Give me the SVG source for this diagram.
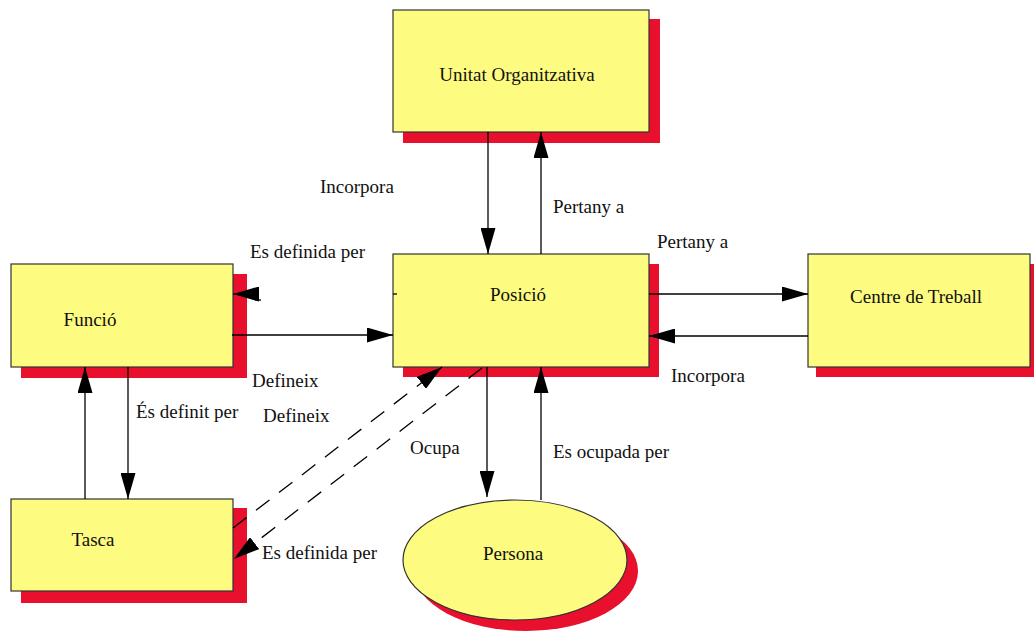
<svg xmlns="http://www.w3.org/2000/svg" width="1034" height="632" viewBox="0 0 1034 632">
  <defs>
    <marker id="arrow" markerUnits="userSpaceOnUse" markerWidth="27" markerHeight="15" refX="26" refY="7.5" orient="auto">
      <path d="M0,0 L26,7.5 L0,15 z" fill="#000"/>
    </marker>
    <style>
      .shadow { fill: #e8102c; }
      .box { fill: #fdfb80; stroke: #333; stroke-width: 1.2; }
      .lbl { font-family: "Liberation Serif", "Times New Roman", serif; font-size: 19px; fill: #111; }
      .conn { stroke: #000; stroke-width: 1.3; fill: none; }
      .dash { stroke: #000; stroke-width: 1.3; fill: none; stroke-dasharray: 17 12; }
    </style>
  </defs>
  <rect width="1034" height="632" fill="#fff"/>

  <!-- nodes -->
  <g id="unitat">
    <rect class="shadow" x="403" y="19" width="257" height="124"/>
    <rect class="box" x="393" y="10" width="256" height="122"/>
    <text class="lbl" x="517" y="81" text-anchor="middle">Unitat Organitzativa</text>
  </g>
  <g id="posicio">
    <rect class="shadow" x="403" y="264" width="256" height="113"/>
    <rect class="box" x="393" y="254" width="256" height="113"/>
    <text class="lbl" x="518" y="301" text-anchor="middle">Posició</text>
  </g>
  <g id="funcio">
    <rect class="shadow" x="21" y="274" width="226" height="104"/>
    <rect class="box" x="11" y="264" width="222" height="103"/>
    <text class="lbl" x="90" y="326" text-anchor="middle">Funció</text>
  </g>
  <g id="tasca">
    <rect class="shadow" x="21" y="508" width="226" height="95"/>
    <rect class="box" x="11" y="499" width="222" height="92"/>
    <text class="lbl" x="93" y="546" text-anchor="middle">Tasca</text>
  </g>
  <g id="centre">
    <rect class="shadow" x="816" y="264" width="222" height="113"/>
    <rect class="box" x="808" y="254" width="222" height="113"/>
    <text class="lbl" x="916" y="303" text-anchor="middle">Centre de Treball</text>
  </g>
  <g id="persona">
    <ellipse class="shadow" cx="526" cy="571" rx="112" ry="60"/>
    <ellipse class="box" cx="515" cy="560" rx="112" ry="60"/>
    <text class="lbl" x="513" y="560" text-anchor="middle">Persona</text>
  </g>

  <!-- connectors -->
  <g id="connectors">
    <line class="conn" x1="488" y1="132" x2="488" y2="254" marker-end="url(#arrow)"/>
    <line class="conn" x1="541" y1="254" x2="541" y2="132" marker-end="url(#arrow)"/>
    <line class="conn" x1="649" y1="294" x2="808" y2="294" marker-end="url(#arrow)"/>
    <line class="conn" x1="808" y1="336" x2="649" y2="336" marker-end="url(#arrow)"/>
    <line class="conn" x1="232" y1="335" x2="393" y2="335" marker-end="url(#arrow)"/>
    <line class="conn" x1="128" y1="367" x2="128" y2="499" marker-end="url(#arrow)"/>
    <line class="conn" x1="85" y1="499" x2="85" y2="367" marker-end="url(#arrow)"/>
    <line class="conn" x1="487" y1="367" x2="487" y2="497" marker-end="url(#arrow)"/>
    <line class="conn" x1="541" y1="500" x2="541" y2="367" marker-end="url(#arrow)"/>
    <!-- faint dashed link back to Funció -->
    <line class="conn" x1="393" y1="294" x2="397" y2="294"/>
    <line class="conn" x1="255" y1="300" x2="261" y2="300"/>
    <line class="conn" x1="250" y1="294" x2="233" y2="294" marker-end="url(#arrow)"/>
    <!-- dashed Tasca / Posició links -->
    <line class="dash" x1="233" y1="528" x2="442" y2="367" marker-end="url(#arrow)"/>
    <line class="dash" x1="482" y1="368" x2="234" y2="559" marker-end="url(#arrow)"/>
  </g>

  <!-- connector labels -->
  <g id="labels">
    <text class="lbl" x="320" y="193">Incorpora</text>
    <text class="lbl" x="553" y="213">Pertany a</text>
    <text class="lbl" x="250" y="258">Es definida per</text>
    <text class="lbl" x="657" y="248">Pertany a</text>
    <text class="lbl" x="252" y="387">Defineix</text>
    <text class="lbl" x="263" y="422">Defineix</text>
    <text class="lbl" x="136" y="418">És definit per</text>
    <text class="lbl" x="410" y="454">Ocupa</text>
    <text class="lbl" x="553" y="458">Es ocupada per</text>
    <text class="lbl" x="262" y="559">Es definida per</text>
    <text class="lbl" x="671" y="382">Incorpora</text>
  </g>
</svg>
